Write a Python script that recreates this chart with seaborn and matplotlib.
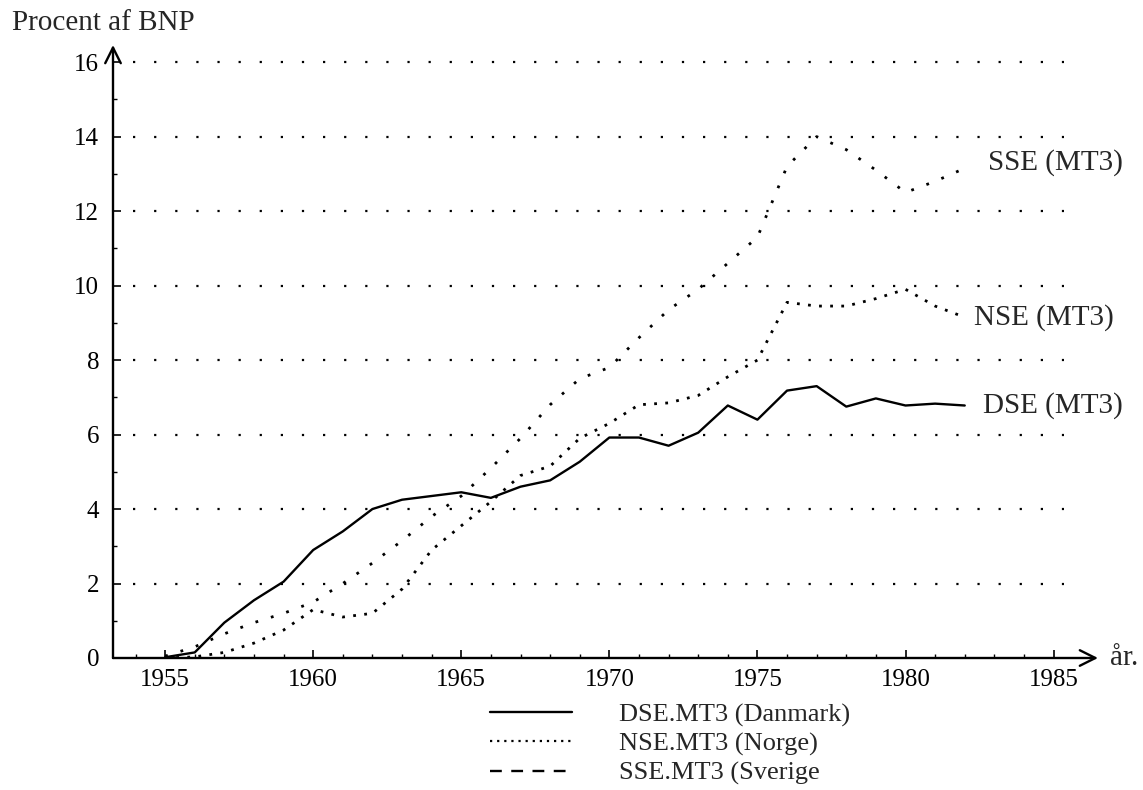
import matplotlib
matplotlib.use("Agg")
import matplotlib.pyplot as plt
import matplotlib.lines as mlines
import seaborn as sns

# --- data ---
years = list(range(1955, 1983))
dse = [0.02, 0.15, 0.95, 1.55, 2.05, 2.9, 3.4, 4.0, 4.25, 4.35, 4.45, 4.3, 4.6, 4.77,
       5.27, 5.92, 5.92, 5.7, 6.05, 6.78, 6.4, 7.18, 7.3, 6.75, 6.97, 6.78, 6.83, 6.78]
nse = [0.0, 0.03, 0.15, 0.4, 0.75, 1.3, 1.1, 1.2, 1.85, 2.9, 3.55, 4.2, 4.9, 5.15,
       5.9, 6.3, 6.8, 6.85, 7.05, 7.55, 8.0, 9.55, 9.45, 9.45, 9.65, 9.9, 9.45, 9.15]
sse = [0.05, 0.3, 0.65, 0.95, 1.2, 1.5, 2.0, 2.55, 3.15, 3.8, 4.35, 5.1, 5.9, 6.8,
       7.5, 7.8, 8.6, 9.35, 9.9, 10.6, 11.3, 13.2, 14.0, 13.65, 13.1, 12.5, 12.8, 13.15]

end_labels = ['DSE (MT3)', 'NSE (MT3)', 'SSE (MT3)']
legend_labels = ['DSE.MT3 (Danmark)', 'NSE.MT3 (Norge)', 'SSE.MT3 (Sverige']
x_ticks = list(range(1955, 1990, 5))
y_ticks = list(range(0, 17, 2))

sns.set_style("white")
plt.rcParams['font.family'] = ['Liberation Serif', 'DejaVu Serif']

fig = plt.figure(figsize=(11.43, 7.9), dpi=100)
ax = fig.add_axes([113 / 1143, 132 / 790, 985 / 1143, 613 / 790])

# dotted grid, stops short of the arrow
ax.hlines(y_ticks[1:], 1953.9, 1985.35, colors='k', linewidth=1.6,
          linestyles=[(0, (1, 8.5))])

sns.lineplot(x=years, y=dse, ax=ax, color='k', linewidth=1.7)
sns.lineplot(x=years, y=nse, ax=ax, color='k', linewidth=2.0, linestyle=(0, (1, 3)))
sns.lineplot(x=years, y=sse, ax=ax, color='k', linewidth=2.0, linestyle=(0, (1, 4.8)))

ax.set_xlim(1953.24, 1986.5)
ax.set_ylim(0, 16.46)
for s in ax.spines.values():
    s.set_visible(False)

# axes as arrows
ax.annotate('', xy=(1, 0), xytext=(0, 0), xycoords='axes fraction',
            arrowprops=dict(arrowstyle='->', lw=1.7, color='k', mutation_scale=28,
                            shrinkA=0, shrinkB=0), annotation_clip=False)
ax.annotate('', xy=(0, 1), xytext=(0, 0), xycoords='axes fraction',
            arrowprops=dict(arrowstyle='->', lw=1.7, color='k', mutation_scale=28,
                            shrinkA=0, shrinkB=0), annotation_clip=False)

ax.set_xticks(x_ticks)
ax.set_xticks(range(1954, 1986), minor=True)
ax.set_yticks(y_ticks)
ax.set_yticks(range(1, 16, 2), minor=True)
ax.tick_params(which='both', direction='in', color='k', bottom=True, left=True,
               labelsize=18, labelcolor='k')
ax.tick_params(which='major', length=6, width=1.2)
ax.tick_params(which='minor', length=3, width=1)
ax.tick_params(axis='x', pad=8)
ax.tick_params(axis='y', pad=10)
ax.grid(False)

# labels at the line ends
ax.text(1982.77, 13.3, end_labels[2], fontsize=21, va='center', ha='left')
ax.text(1982.3, 9.13, end_labels[1], fontsize=21, va='center', ha='left')
ax.text(1982.6, 6.79, end_labels[0], fontsize=21, va='center', ha='left')

fig.text(12 / 1143, 1 - 23 / 790, 'Procent af BNP', fontsize=21, va='center', ha='left')
fig.text(1110 / 1143, 1 - 658 / 790, 'år.', fontsize=21, va='center', ha='left')

handles = [
    mlines.Line2D([], [], color='k', linewidth=1.7),
    mlines.Line2D([], [], color='k', linewidth=1.6, linestyle=(0, (1, 2.2))),
    mlines.Line2D([], [], color='k', linewidth=1.7, linestyle=(0, (5, 4))),
]
fig.legend(handles, legend_labels, loc='upper left',
           bbox_to_anchor=(490 / 1143, 1 - 703 / 790), frameon=False,
           fontsize=19, handlelength=3.1, handletextpad=1.8, labelspacing=0.2,
           borderpad=0, borderaxespad=0)

fig.savefig('out.png', dpi=100)
